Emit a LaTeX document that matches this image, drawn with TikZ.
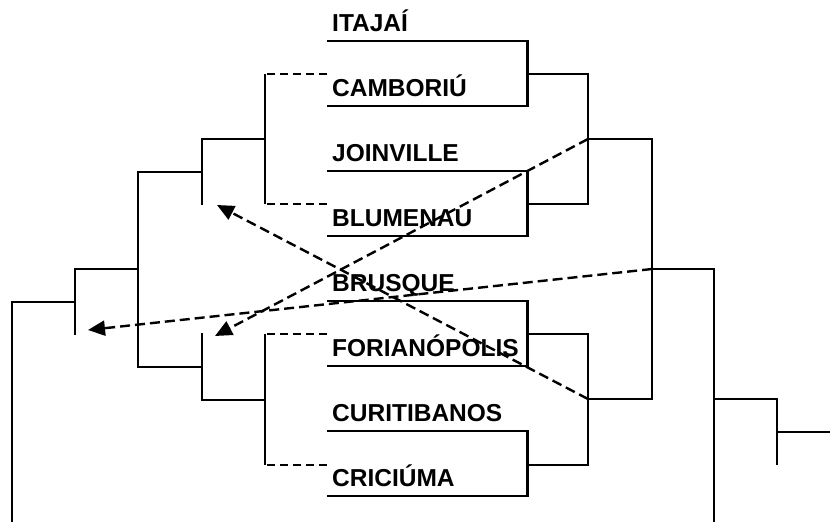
\documentclass[tikz,border=0pt]{standalone}
\usepackage{fontspec}
\setmainfont{Liberation Sans}
\usetikzlibrary{matrix,positioning,arrows.meta}

\begin{document}
\begin{tikzpicture}[x=1pt,y=-1pt,line width=2.4pt,
  tmat/.style={matrix of nodes,row sep={65pt,between origins},inner sep=0pt,
    nodes={anchor=south west,inner xsep=4pt,inner ysep=0pt,text width=190pt,
      text height=18pt,text depth=8pt,font=\fontsize{24.5}{29}\selectfont\bfseries}},
  gap/.style={dash pattern=on 8pt off 5pt},
  pass/.style={dash pattern=on 10pt off 5pt,-{Triangle[length=17pt,width=15pt]}}]

  \useasboundingbox (0,0) rectangle (830,522);

  \matrix[tmat,matrix anchor=south west] (teams) at (327,497) {ITAJAÍ\\
    CAMBORIÚ\\
    JOINVILLE\\
    BLUMENAU\\
    BRUSQUE\\
    FORIANÓPOLIS\\
    CURITIBANOS\\
    CRICIÚMA\\};

  % pairs of teams
  \draw (teams-1-1.south west) -- (teams-1-1.south east) |- (teams-2-1.south west);
  \draw (teams-3-1.south west) -- (teams-3-1.south east) |- (teams-4-1.south west);
  \draw (teams-5-1.south west) -- (teams-5-1.south east) |- (teams-6-1.south west);
  \draw (teams-7-1.south west) -- (teams-7-1.south east) |- (teams-8-1.south west);

  % right side of the bracket
  \coordinate (q1) at (588,74);
  \coordinate (q2) at (588,204);
  \coordinate (q3) at (588,334);
  \coordinate (q4) at (588,465);
  \coordinate (m1) at (588,139);
  \coordinate (m2) at (588,399);
  \coordinate (s1) at (652,139);
  \coordinate (s2) at (652,399);
  \coordinate (sm) at (652,269);
  \coordinate (f1) at (714,269);
  \coordinate (f2) at (714,522);
  \coordinate (t1) at (777,399);
  \coordinate (t2) at (777,465);
  \coordinate (out) at (830,432);

  \draw (q1 -| teams-1-1.east) -- (q1) -- (q2) -- (q2 -| teams-3-1.east);
  \draw (q3 -| teams-5-1.east) -- (q3) -- (q4) -- (q4 -| teams-7-1.east);
  \draw (m1) -- (s1) -- (s2) -- (m2);
  \draw (sm) -- (f1) -- (f2);
  \draw (f1 |- s2) -- (t1) -- (t2);
  \draw (t1 |- out) -- (out);

  % left side of the bracket
  \coordinate (l1) at (265,74);
  \coordinate (l2) at (265,204);
  \coordinate (l3) at (265,334);
  \coordinate (l4) at (265,465);
  \coordinate (k1) at (202,139);
  \coordinate (k2) at (202,205);
  \coordinate (k3) at (202,333);
  \coordinate (k4) at (202,400);
  \coordinate (e1) at (138,172);
  \coordinate (e2) at (138,367);
  \coordinate (d1) at (75,269);
  \coordinate (d2) at (75,335);
  \coordinate (c1) at (12,302);
  \coordinate (c2) at (12,522);

  \draw[gap] (q1 -| teams-1-1.west) -- (l1);
  \draw[gap] (q2 -| teams-1-1.west) -- (l2);
  \draw[gap] (q3 -| teams-1-1.west) -- (l3);
  \draw[gap] (q4 -| teams-1-1.west) -- (l4);
  \draw (l1) -- (l2);
  \draw (l3) -- (l4);
  \draw (l1 |- k1) -- (k1) -- (k2);
  \draw (k1 |- e1) -- (e1) -- (e2) -- (e2 -| k1);
  \draw (k3) -- (k4) -- (k4 -| l3);
  \draw (e1 |- d1) -- (d1) -- (d2);
  \draw (d1 |- c1) -- (c1) -- (c2);

  % dashed arrows
  \coordinate (a1) at (217,205);
  \coordinate (a2) at (215,336);
  \coordinate (a3) at (88,330);
  \draw[pass] (m2) -- (a1);
  \draw[pass] (m1) -- (a2);
  \draw[pass] (sm) -- (a3);
\end{tikzpicture}
\end{document}
